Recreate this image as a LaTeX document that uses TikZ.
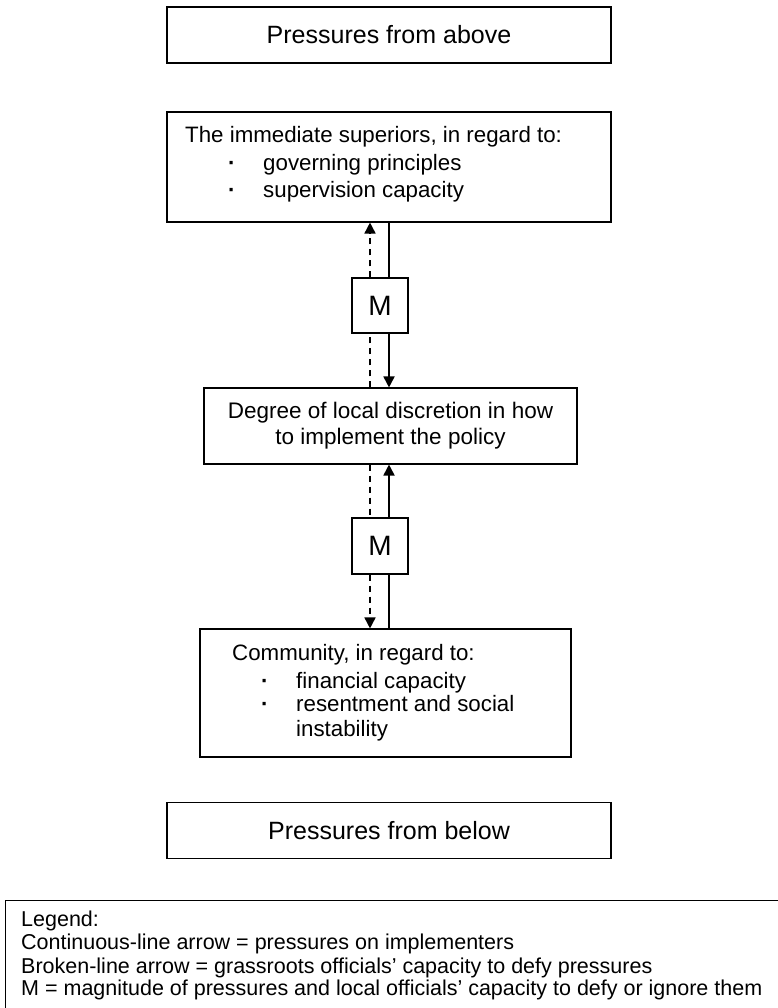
\documentclass[tikz,border=0pt]{standalone}
\usepackage{fontspec}
\setmainfont{Liberation Sans}
\usetikzlibrary{arrows.meta}

\tikzset{
  box/.style={draw,line width=1.1pt,inner sep=0pt},
  pressure/.style={box,minimum width=444pt,minimum height=56pt,font=\fontsize{25}{30}\selectfont},
  txt/.style={anchor=base west,inner sep=0pt,font=\fontsize{22.3}{27}\selectfont},
  legtxt/.style={anchor=base west,inner sep=0pt,font=\fontsize{21.5}{23}\selectfont},
  mbox/.style={box,minimum width=56pt,font=\fontsize{28}{30}\selectfont},
  solidarr/.style={line width=1.8pt},
  brokenarr/.style={line width=1.6pt,dash pattern=on 6.5pt off 4.5pt},
  headed/.style={-{Triangle[width=11pt,length=11pt]}}
}

\begin{document}
\begin{tikzpicture}[x=1pt,y=1pt]
  \useasboundingbox (0,0) rectangle (778,-1008);
  % top and bottom pressures
  \node[pressure] (above) at (389,-35) {Pressures from above};
  \node[pressure] (below) at (389,-830.5) {Pressures from below};
  % superiors
  \node[box,minimum width=444pt,minimum height=110pt] (sup) at (389,-167) {};
  \node[txt] (suphead) at (185,-143) {The immediate superiors, in regard to:};
  \foreach \t/\y in {governing principles/171, supervision capacity/198} {
    \node[txt] (supdot\y) at (228,-\y) {\textbf{·}};
    \node[txt] (supitem\y) at (263,-\y) {\t};
  }
  % local discretion
  \node[box,minimum width=373pt,minimum height=76pt,align=center,
        font=\fontsize{22.5}{26}\selectfont] (mid) at (390.5,-426)
       {Degree of local discretion in how\\to implement the policy};
  % community
  \node[box,minimum width=371pt,minimum height=128pt] (com) at (385.5,-693) {};
  \node[txt] (comhead) at (232,-660) {Community, in regard to:};
  \foreach \t/\y in {financial capacity/688, resentment and social/711} {
    \node[txt] (comdot\y) at (261,-\y) {\textbf{·}};
    \node[txt] (comitem\y) at (296,-\y) {\t};
  }
  \node[txt] (comitem736) at (296,-736) {instability};
  % magnitude boxes
  \node[mbox,minimum height=55pt] (m1) at (380,-305.5) {M};
  \node[mbox,minimum height=56pt] (m2) at (380,-546) {M};
  % arrows
  \coordinate (sl) at (389,0);
  \coordinate (dl) at (370,0);
  \draw[solidarr] (sup.south -| sl) -- (m1.north -| sl);
  \draw[solidarr,headed] (m1.south -| sl) -- (mid.north -| sl);
  \draw[brokenarr] (mid.north -| dl) -- (m1.south -| dl);
  \draw[brokenarr,headed] (m1.north -| dl) -- (sup.south -| dl);
  \draw[solidarr] (com.north -| sl) -- (m2.south -| sl);
  \draw[solidarr,headed] (m2.north -| sl) -- (mid.south -| sl);
  \draw[brokenarr] (mid.south -| dl) -- (m2.north -| dl);
  \draw[brokenarr,headed] (m2.south -| dl) -- (com.north -| dl);
  % legend
  \node[box,anchor=north west,minimum width=820pt,minimum height=150pt] (leg) at (5,-900) {};
  \foreach \t/\y in {Legend:/926,
      Continuous-line arrow = pressures on implementers/949,
      Broken-line arrow = grassroots officials’ capacity to defy pressures/973,
      M = magnitude of pressures and local officials’ capacity to defy or ignore them/995} {
    \node[legtxt] (leg\y) at (21,-\y) {\t};
  }
\end{tikzpicture}
\end{document}
